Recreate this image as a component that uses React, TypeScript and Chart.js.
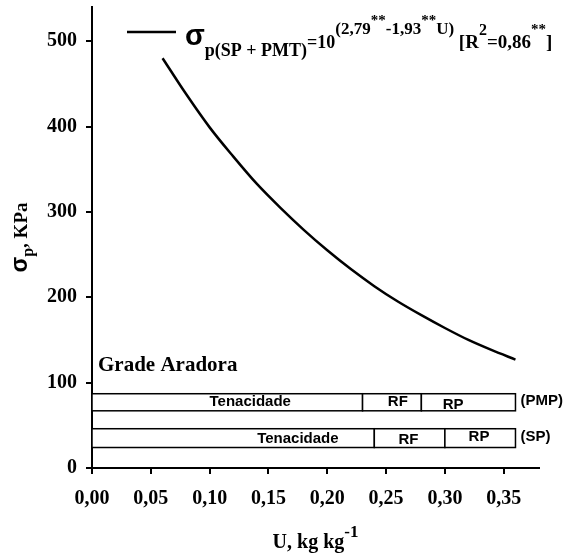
import React, { useEffect, useRef } from "react";
import { Chart, registerables } from "chart.js";

Chart.register(...registerables);

// ---- data ----
const uValues = [0.06, 0.08, 0.1, 0.12, 0.14, 0.16, 0.18, 0.2, 0.22, 0.24, 0.26, 0.28, 0.3, 0.32, 0.34, 0.36];
const sigmaValues = [480, 438, 399, 365, 333, 305, 279, 255, 233, 213, 195, 179, 164, 150, 138, 127];
const xTickLabels = ["0,00", "0,05", "0,10", "0,15", "0,20", "0,25", "0,30", "0,35"];
const yTickLabels = ["0", "100", "200", "300", "400", "500"];
const bandNames = ["Tenacidade", "RF", "RP"];
const pmpLimits = [0, 0.23, 0.28, 0.36];
const spLimits = [0, 0.24, 0.3, 0.36];
const pmpRange = [67, 87];
const spRange = [24, 46];
const rowTags = ["(PMP)", "(SP)"];
const blockTitle = "Grade Aradora";

const SERIF = "'Liberation Serif', 'Times New Roman', serif";
const SANS = "'Liberation Sans', Arial, sans-serif";

type Run = { t: string; font: string; dy?: number };

function drawRuns(ctx: CanvasRenderingContext2D, x: number, y: number, runs: Run[]) {
  let cx = x;
  for (const r of runs) {
    ctx.font = r.font;
    ctx.fillText(r.t, cx, y + (r.dy || 0));
    cx += ctx.measureText(r.t).width;
  }
  return cx;
}
function runsWidth(ctx: CanvasRenderingContext2D, runs: Run[]) {
  let w = 0;
  for (const r of runs) {
    ctx.font = r.font;
    w += ctx.measureText(r.t).width;
  }
  return w;
}

// label layout inside the bands: [x in U, y in kPa]
const pmpLabelPos = [
  [0.1345, 77],
  [0.26, 78],
  [0.307, 74.5],
];
const spLabelPos = [
  [0.175, 34.5],
  [0.269, 33.5],
  [0.329, 36],
];

const annotPlugin = {
  id: "annot",
  afterDatasetsDraw(chart: any) {
    const ctx: CanvasRenderingContext2D = chart.ctx;
    const xs = chart.scales.x;
    const ys = chart.scales.y;
    ctx.save();
    ctx.fillStyle = "#000";
    ctx.strokeStyle = "#000";

    // bands
    const rows = [
      { lim: pmpLimits, rng: pmpRange, pos: pmpLabelPos, tag: rowTags[0] },
      { lim: spLimits, rng: spRange, pos: spLabelPos, tag: rowTags[1] },
    ];
    for (const row of rows) {
      const yTop = ys.getPixelForValue(row.rng[1]);
      const yBot = ys.getPixelForValue(row.rng[0]);
      ctx.lineWidth = 1.5;
      for (let i = 0; i < row.lim.length - 1; i++) {
        const x0 = xs.getPixelForValue(row.lim[i]);
        const x1 = xs.getPixelForValue(row.lim[i + 1]);
        ctx.fillStyle = "#fff";
        ctx.fillRect(x0, yTop, x1 - x0, yBot - yTop);
        ctx.strokeRect(x0, yTop, x1 - x0, yBot - yTop);
      }
      ctx.fillStyle = "#000";
      ctx.font = `bold 15px ${SANS}`;
      ctx.textAlign = "center";
      ctx.textBaseline = "middle";
      for (let i = 0; i < bandNames.length; i++) {
        ctx.fillText(bandNames[i], xs.getPixelForValue(row.pos[i][0]), ys.getPixelForValue(row.pos[i][1]));
      }
      ctx.textAlign = "left";
      ctx.font = `bold 15px ${SANS}`;
      ctx.fillText(row.tag, xs.getPixelForValue(row.lim[row.lim.length - 1]) + 5, (yTop + yBot) / 2 - 1);
    }

    // block title
    ctx.textAlign = "left";
    ctx.textBaseline = "alphabetic";
    ctx.font = `bold 21px ${SERIF}`;
    ctx.fillText(blockTitle, xs.left + 6, 371);

    // legend
    ctx.lineWidth = 2.5;
    ctx.beginPath();
    ctx.moveTo(127, 32);
    ctx.lineTo(176, 32);
    ctx.stroke();
    const b = 48;
    const legendRuns: Run[] = [
      { t: "σ", font: `bold 29px ${SANS}`, dy: -3 },
      { t: "p(SP + PMT)", font: `bold 18px ${SERIF}`, dy: 8 },
      { t: "=10", font: `bold 18px ${SERIF}` },
      { t: "(2,79", font: `bold 17px ${SERIF}`, dy: -14 },
      { t: "**", font: `bold 15px ${SERIF}`, dy: -23 },
      { t: "-1,93", font: `bold 17px ${SERIF}`, dy: -14 },
      { t: "**", font: `bold 15px ${SERIF}`, dy: -23 },
      { t: "U)", font: `bold 17px ${SERIF}`, dy: -14 },
      { t: " [R", font: `bold 19px ${SERIF}` },
      { t: "2", font: `bold 16px ${SERIF}`, dy: -13 },
      { t: "=0,86", font: `bold 19px ${SERIF}` },
      { t: "**", font: `bold 15px ${SERIF}`, dy: -14 },
      { t: "]", font: `bold 19px ${SERIF}` },
    ];
    drawRuns(ctx, 185, b, legendRuns);

    // x axis title
    const xt: Run[] = [
      { t: "U, kg kg", font: `bold 20px ${SERIF}` },
      { t: "-1", font: `bold 17px ${SERIF}`, dy: -11 },
    ];
    const xw = runsWidth(ctx, xt);
    drawRuns(ctx, (xs.left + xs.right) / 2 - xw / 2, 548, xt);

    // y axis title
    const yt: Run[] = [
      { t: "σ", font: `bold 23px ${SANS}` },
      { t: "p", font: `bold 16px ${SERIF}`, dy: 6 },
      { t: ", KPa", font: `bold 19px ${SERIF}` },
    ];
    const yw = runsWidth(ctx, yt);
    ctx.translate(27, (ys.top + ys.bottom) / 2);
    ctx.rotate(-Math.PI / 2);
    drawRuns(ctx, -yw / 2, 0, yt);
    ctx.restore();
  },
};

export default function App() {
  const ref = useRef<HTMLCanvasElement | null>(null);
  useEffect(() => {
    document.body.style.margin = "0";
    const canvas = ref.current;
    if (!canvas) return;
    const chart = new Chart(canvas, {
      type: "line",
      data: {
        datasets: [
          {
            data: uValues.map((u, i) => ({ x: u, y: sigmaValues[i] })),
            borderColor: "#000",
            borderWidth: 2.5,
            pointRadius: 0,
            cubicInterpolationMode: "monotone",
            fill: false,
          },
        ],
      },
      options: {
        responsive: false,
        animation: false,
        devicePixelRatio: 1,
        layout: { padding: { left: 0, top: 7, right: 42, bottom: 0 } },
        plugins: { legend: { display: false }, tooltip: { enabled: false } },
        scales: {
          x: {
            type: "linear",
            min: 0,
            max: 0.38,
            border: { color: "#000", width: 2 },
            grid: { drawOnChartArea: false, drawTicks: true, tickLength: 6, color: "#000", lineWidth: 2 },
            ticks: {
              stepSize: 0.05,
              includeBounds: false,
              maxRotation: 0,
              autoSkip: false,
              padding: 13,
              color: "#000",
              font: { family: SERIF, size: 20, weight: "bold" },
              callback: (_v: any, i: number) => xTickLabels[i],
            },
            afterFit: (s: any) => {
              s.height = 85;
              s.paddingLeft = 0;
              s.paddingRight = 0;
            },
          },
          y: {
            type: "linear",
            min: 0,
            max: 540,
            border: { color: "#000", width: 2 },
            grid: { drawOnChartArea: false, drawTicks: true, tickLength: 6, color: "#000", lineWidth: 2 },
            ticks: {
              stepSize: 100,
              includeBounds: false,
              autoSkip: false,
              padding: 9,
              color: "#000",
              font: { family: SERIF, size: 20, weight: "bold" },
              callback: (_v: any, i: number) => yTickLabels[i],
            },
            afterFit: (s: any) => {
              s.width = 92;
              s.paddingTop = 0;
              s.paddingBottom = 0;
            },
          },
        },
      },
      plugins: [annotPlugin],
    } as any);
    return () => chart.destroy();
  }, []);
  return <canvas ref={ref} width={581} height={553} style={{ display: "block" }} />;
}
